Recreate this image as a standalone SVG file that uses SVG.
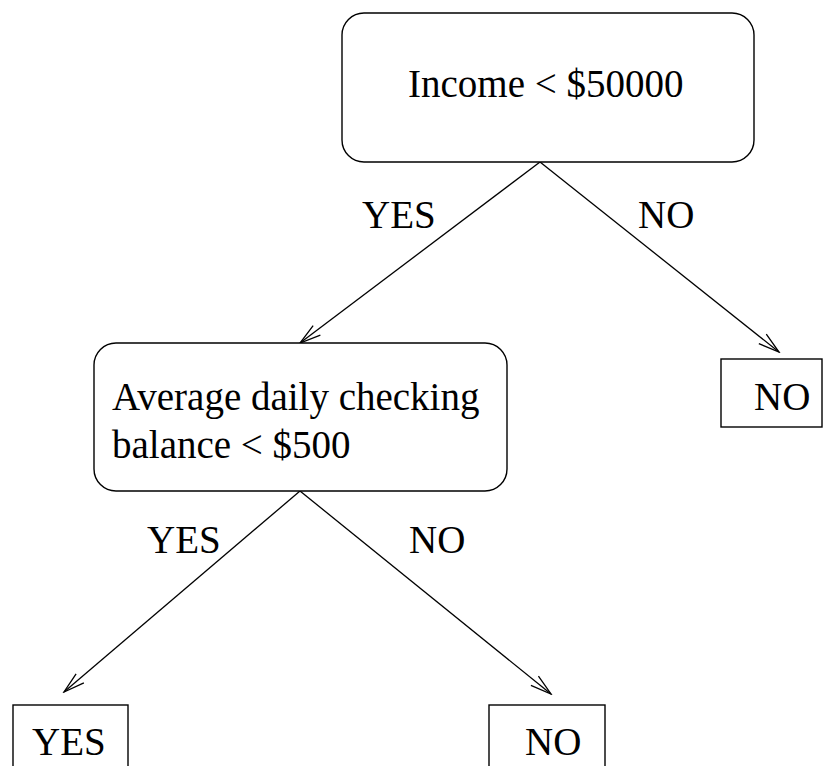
<svg xmlns="http://www.w3.org/2000/svg" width="825" height="766" viewBox="0 0 825 766">
  <style>
    .box { fill: #fff; stroke: #000; stroke-width: 1.4; }
    .lbl { font-family: "Liberation Serif", "Times New Roman", serif; font-size: 39px; fill: #000; }
    .edge { stroke: #000; stroke-width: 1.3; fill: none; marker-end: url(#vee); }
  </style>
  <defs>
    <marker id="vee" viewBox="-22 -8 24 16" markerWidth="24" markerHeight="16" refX="0" refY="0" orient="auto" markerUnits="userSpaceOnUse">
      <path d="M -21 -6 L 0 0 L -21 6" fill="none" stroke="#000" stroke-width="1.3"/>
    </marker>
  </defs>
  <rect width="825" height="766" fill="#fff"/>

  <g id="connectors">
    <line class="edge" x1="540" y1="162" x2="300" y2="343"/>
    <line class="edge" x1="540" y1="162" x2="779" y2="352"/>
    <line class="edge" x1="300" y1="491" x2="64" y2="692"/>
    <line class="edge" x1="300" y1="491" x2="551" y2="694"/>
    <text class="lbl" x="362" y="228">YES</text>
    <text class="lbl" x="638" y="228">NO</text>
    <text class="lbl" x="147" y="553">YES</text>
    <text class="lbl" x="409" y="553">NO</text>
  </g>

  <g id="income">
    <rect class="box" x="342" y="13" width="412" height="149" rx="22" ry="22"/>
    <text class="lbl" x="408" y="97">Income &lt; $50000</text>
  </g>

  <g id="balance">
    <rect class="box" x="94" y="343" width="413" height="148" rx="22" ry="22"/>
    <text class="lbl" x="112" y="410">Average daily checking</text>
    <text class="lbl" x="112" y="458">balance &lt; $500</text>
  </g>

  <g id="leaf-no-right">
    <rect class="box" x="721" y="359" width="101" height="68"/>
    <text class="lbl" x="754" y="410">NO</text>
  </g>

  <g id="leaf-yes">
    <rect class="box" x="13" y="705" width="115" height="80"/>
    <text class="lbl" x="32" y="755">YES</text>
  </g>

  <g id="leaf-no-bottom">
    <rect class="box" x="489" y="705" width="116" height="80"/>
    <text class="lbl" x="525" y="755">NO</text>
  </g>
</svg>
